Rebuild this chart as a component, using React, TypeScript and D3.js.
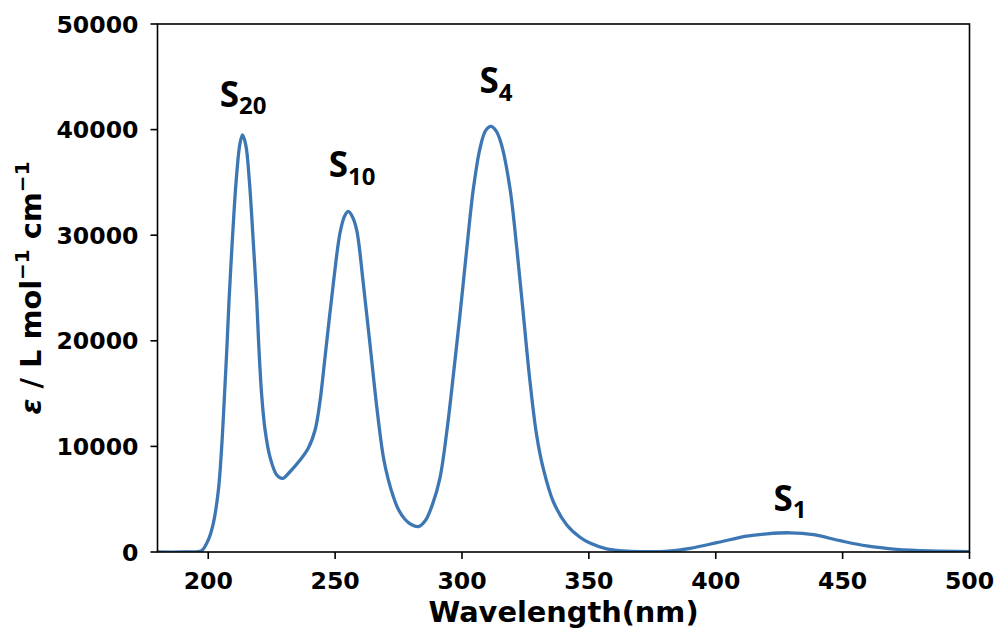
import React from "react";
import * as d3 from "d3";

// Wavelength (nm) sampled along the absorption curve
const wavelength = [
  180, 190, 195, 197.4, 200, 202, 204, 205.3, 206.3, 207.3,
  208.2, 209.5, 211, 212.5, 213.5, 214.8, 216.2, 217.7, 219.1, 220,
  221.1, 222.4, 224.3, 227, 229.3, 232.2, 236.2, 239.4, 242.1, 244,
  246, 249.3, 251.9, 253.7, 255.2, 256.8, 258.5, 261.1, 263.7, 266.4,
  269, 271, 273, 275, 277.5, 280, 282.8, 285.5, 288.5, 291.3,
  294, 296.6, 299.2, 301.9, 304.5, 307.1, 309.3, 311.4, 313.5, 315.6,
  318.9, 321.6, 324.2, 326.8, 329.4, 332, 336, 341.3, 346.5, 350.4,
  357, 363.6, 370, 380, 389.9, 400.4, 412.2, 420.1, 429.3, 438.5,
  449, 459.5, 471.3, 484.4, 500,
];

// Molar absorptivity (L mol^-1 cm^-1) read at each wavelength
const epsilon = [
  0, 0, 20, 120, 1140, 2720, 5870, 9970, 14390, 19130,
  23860, 29540, 35150, 38680, 39500, 38530, 35150, 29540, 23860, 19130,
  14710, 11550, 9020, 7290, 6970, 7600, 8710, 9820, 11550, 14200,
  18400, 25440, 30180, 31800, 32250, 31750, 30490, 25440, 19760, 13760,
  9000, 6800, 5200, 4000, 3100, 2600, 2400, 2950, 4600, 7000,
  11390, 16760, 22440, 28760, 34440, 38230, 39900, 40300, 39850, 38540,
  34440, 28760, 22440, 16130, 11080, 7930, 4760, 2560, 1400, 850,
  300, 100, 40, 60, 350, 880, 1500, 1720, 1820, 1640,
  1070, 570, 250, 100, 40,
];

const xTicks = [200, 250, 300, 350, 400, 450, 500];
const yTicks = [0, 10000, 20000, 30000, 40000, 50000];

// Peak annotations: label name, subscript, position in data coords
const peakNames = ["S", "S", "S", "S"];
const peakSubs = ["20", "10", "4", "1"];
const peakNm = [213.7, 256.7, 313.4, 429.3];
const peakEps = [42170, 35500, 43460, 3910];

const W = 998;
const H = 632;
const M = { left: 157.5, right: 998 - 969.5, top: 24, bottom: 632 - 552 };

export default function App() {
  const x = d3.scaleLinear().domain([180, 500]).range([M.left, W - M.right]);
  const y = d3.scaleLinear().domain([0, 50000]).range([H - M.bottom, M.top]);

  const pts: [number, number][] = wavelength.map((w, i) => [w, epsilon[i]]);
  const line = d3
    .line<[number, number]>()
    .x((d) => x(d[0]))
    .y((d) => y(Math.max(0, d[1])))
    .curve(d3.curveCatmullRom.alpha(0.5));

  const tickFont = "DejaVu Sans, sans-serif";
  const x0 = M.left;
  const x1 = W - M.right;
  const y0 = H - M.bottom;
  const y1 = M.top;
  const tickLen = 7;

  return (
    <svg
      width={W}
      height={H}
      style={{ position: "absolute", left: 0, top: 0, background: "#fff" }}
    >
      <rect x={0} y={0} width={W} height={H} fill="#fff" />
      <defs>
        <clipPath id="plotclip">
          <rect x={x0} y={y1} width={x1 - x0} height={y0 - y1} />
        </clipPath>
      </defs>

      <path
        d={line(pts) || ""}
        fill="none"
        stroke="#3d77b3"
        strokeWidth={3.3}
        strokeLinejoin="round"
        clipPath="url(#plotclip)"
      />

      {/* frame */}
      <rect
        x={x0}
        y={y1}
        width={x1 - x0}
        height={y0 - y1}
        fill="none"
        stroke="#000"
        strokeWidth={1.6}
      />

      {/* x ticks */}
      {xTicks.map((t) => (
        <g key={"x" + t}>
          <line
            x1={x(t)}
            x2={x(t)}
            y1={y0}
            y2={y0 + tickLen}
            stroke="#000"
            strokeWidth={1.6}
          />
          <text
            x={x(t)}
            y={y0 + 36.5}
            textAnchor="middle"
            fontFamily={tickFont}
            fontWeight="bold"
            fontSize={23.6}
            fill="#000"
          >
            {t}
          </text>
        </g>
      ))}

      {/* y ticks */}
      {yTicks.map((t) => (
        <g key={"y" + t}>
          <line
            x1={x0 - tickLen}
            x2={x0}
            y1={y(t)}
            y2={y(t)}
            stroke="#000"
            strokeWidth={1.6}
          />
          <text
            x={x0 - 19}
            y={y(t) + 8.6}
            textAnchor="end"
            fontFamily={tickFont}
            fontWeight="bold"
            fontSize={23.6}
            fill="#000"
          >
            {t}
          </text>
        </g>
      ))}

      {/* x label */}
      <text
        x={(x0 + x1) / 2}
        y={622}
        textAnchor="middle"
        fontFamily={tickFont}
        fontWeight="bold"
        fontSize={28.8}
        fill="#000"
      >
        Wavelength(nm)
      </text>

      {/* y label */}
      <text
        transform={`translate(40.5, ${(y0 + y1) / 2}) rotate(-90)`}
        textAnchor="middle"
        fontFamily={tickFont}
        fontWeight="bold"
        fontSize={28.8}
        fill="#000"
      >
        <tspan fontStyle="italic">ε</tspan>
        <tspan> / L mol</tspan>
        <tspan fontSize={20} dy={-11.5}>−1</tspan>
        <tspan dy={11.5}> cm</tspan>
        <tspan fontSize={20} dy={-11.5}>−1</tspan>
      </text>

      {/* peak labels */}
      {peakNames.map((n, i) => (
        <text
          key={"p" + i}
          x={x(peakNm[i])}
          y={y(peakEps[i])}
          textAnchor="middle"
          fontFamily="Open Sans, sans-serif"
          fontWeight="bold"
          fontSize={35}
          fill="#000"
        >
          <tspan>{n}</tspan>
          <tspan fontSize={24} dy={7.5}>
            {peakSubs[i]}
          </tspan>
        </text>
      ))}
    </svg>
  );
}
